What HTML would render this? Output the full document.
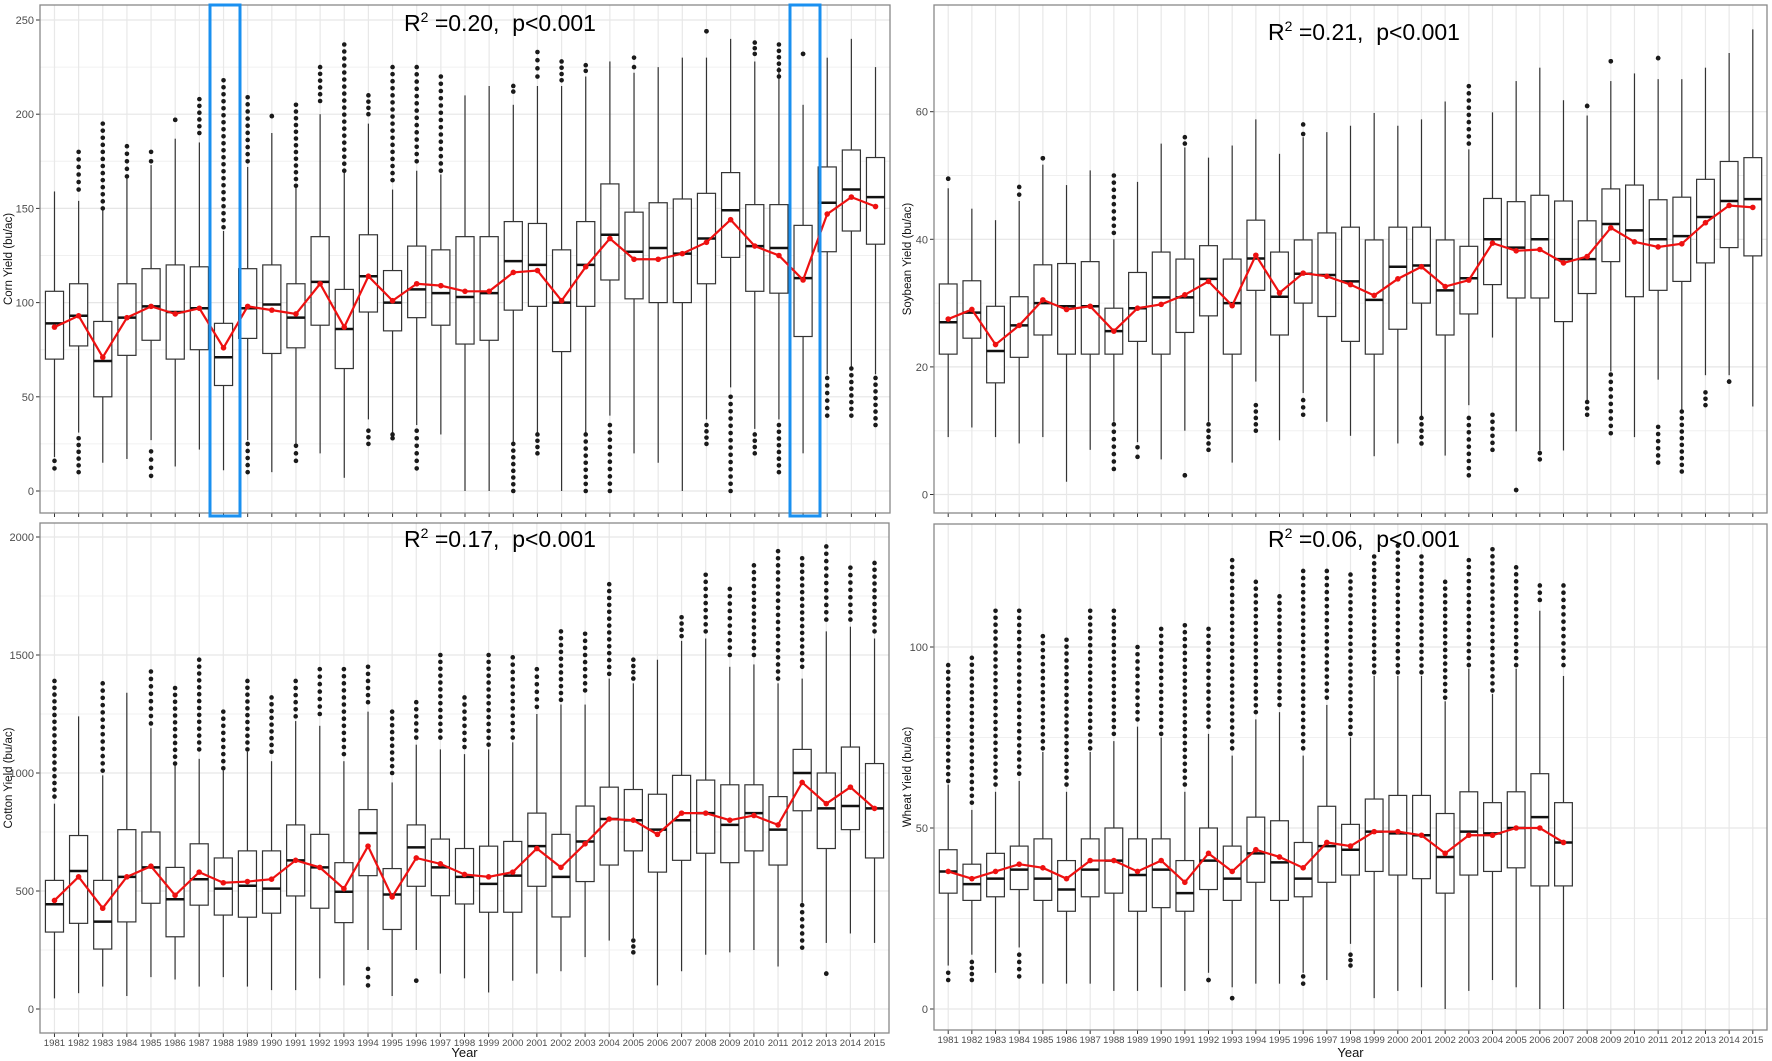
<!DOCTYPE html>
<html><head><meta charset="utf-8">
<style>
html,body{margin:0;padding:0;background:#fff;}
svg{display:block;font-family:"Liberation Sans",Arial,sans-serif;}
</style></head>
<body>
<svg id="chart" width="1772" height="1061" viewBox="0 0 1772 1061" xmlns="http://www.w3.org/2000/svg">
<rect width="1772" height="1061" fill="#fff"/>
</svg>
<script>
const years = [1981,1982,1983,1984,1985,1986,1987,1988,1989,1990,1991,1992,1993,1994,1995,1996,1997,1998,1999,2000,2001,2002,2003,2004,2005,2006,2007,2008,2009,2010,2011,2012,2013,2014,2015];

// Corn
const cornQ1  = [70,77,50,72,80,70,75,56,81,73,76,88,65,95,85,92,88,78,80,96,98,74,98,112,102,100,100,110,124,106,105,82,127,138,131];
const cornMed = [89,93,69,92,98,95,97,71,97,99,92,111,86,114,100,107,105,103,105,122,120,100,120,136,127,129,126,134,149,130,129,113,153,160,156];
const cornQ3  = [106,110,90,110,118,120,119,89,118,120,110,135,107,136,117,130,128,135,135,143,142,128,143,163,148,153,155,158,169,152,152,141,172,181,177];
const cornLo  = [18,31,15,17,27,13,22,11,27,10,25,20,7,38,31,35,30,0,0,26,31,0,31,40,20,15,0,38,55,33,38,20,62,66,62];
const cornHi  = [159,154,150,167,173,187,185,138,172,190,162,200,170,195,160,170,168,210,215,205,215,215,220,228,222,225,230,230,240,228,225,205,230,240,225];
const cornMean= [87,93,71,92,98,94,97,76,98,96,94,110,87,114,101,110,109,106,106,116,117,101,119,134,123,123,126,132,144,130,125,112,147,156,151];
const cornOutHiMin=[0,160,150,167,175,197,190,140,175,199,162,207,170,200,165,175,170,0,0,212,220,218,223,0,225,0,0,244,0,232,220,232,0,0,0];
const cornOutHiMax=[0,180,195,183,180,197,208,218,209,199,205,225,237,210,225,225,220,0,0,215,233,228,226,0,230,0,0,244,0,238,237,232,0,0,0];
const cornOutLoMin=[12,10,0,0,8,0,0,0,10,0,16,0,0,25,28,12,0,0,0,0,20,0,0,0,0,0,0,25,0,20,10,0,40,40,35];
const cornOutLoMax=[16,28,0,0,21,0,0,0,25,0,24,0,0,32,30,32,0,0,0,25,30,0,30,35,0,0,0,35,50,30,35,0,60,65,60];

// Soybean
const soyQ1  = [22,24.5,17.5,21.5,25,22,22,22,24,22,25.4,28,22,32,25,30,27.9,24,22,25.9,30,25,28.3,32.9,30.8,30.8,27.1,31.5,36.5,31,32,33.4,36.3,38.7,37.4];
const soyMed = [27,28.5,22.5,26.5,30,29.5,29.5,25.6,29.2,30.9,30.9,33.8,30,37,31,34.6,34.4,33.4,30.5,35.7,35.9,32,33.9,40,38.7,40,36.9,36.9,42.4,41.4,40,40.5,43.5,46,46.3];
const soyQ3  = [33,33.5,29.5,31,36,36.2,36.5,29.2,34.8,38,36.9,39,36.9,43,38,39.9,41,41.9,39.9,41.9,41.9,39.9,38.9,46.4,45.9,46.9,46,42.9,47.9,48.5,46.2,46.6,49.4,52.2,52.8];
const soyLo  = [9,10.5,9,8,9,2,7,11.4,8.2,5.5,10,11.4,5,17.7,8.5,15.9,11.4,9.2,6,8,11.9,6.1,14,24.6,9.9,6.9,6.9,14.8,19.3,9,18,13.2,18.7,18.7,13.8];
const soyHi  = [48,44.8,43,46,51.7,48.5,50.8,40,49,55,54.4,52.8,54.7,58.8,53.4,56,56.8,57.8,59.8,57.8,58.8,61.6,54.1,59.9,64.8,66.9,61.8,59.4,64.8,66,65.1,65.1,66.9,69.2,72.9];
const soyMean= [27.5,29,23.5,26.5,30.5,29,29.5,25.6,29.2,29.8,31.3,33.4,29.6,37.5,31.6,34.7,34.2,32.9,31.2,33.8,35.7,32.6,33.6,39.4,38.2,38.4,36.3,37.3,41.8,39.6,38.8,39.3,42.6,45.3,45];
const soyOutHiMin=[49.5,0,0,47,52.7,0,0,41,0,0,55,0,0,0,0,56.5,0,0,0,0,0,0,55,0,0,0,0,60.9,67.9,0,68.4,0,0,0,0];
const soyOutHiMax=[49.5,0,0,48.2,52.7,0,0,50,0,0,56,0,0,0,0,58,0,0,0,0,0,0,64,0,0,0,0,60.9,67.9,0,68.4,0,0,0,0];
const soyOutLoMin=[0,0,0,0,0,0,0,4,5.9,0,3,7,0,10,0,12.5,0,0,0,0,8,0,3,7,0.7,5.5,0,12.5,9.6,0,5,3.6,14,17.7,0];
const soyOutLoMax=[0,0,0,0,0,0,0,11,7.4,0,3,11,0,14,0,14.8,0,0,0,0,12,0,12,12.5,0.7,6.5,0,14.5,18.8,0,10.6,13,16,17.7,0];

// Cotton
const cotQ1  = [326,363,254,369,448,306,440,398,389,406,479,427,366,565,337,520,480,445,410,410,520,390,540,610,670,580,630,660,620,670,610,840,680,760,640];
const cotMed = [444,585,370,560,600,465,550,510,522,510,630,600,497,745,485,685,600,560,530,565,690,560,710,805,800,760,800,830,780,830,760,1000,850,860,850];
const cotQ3  = [545,735,545,760,750,600,700,640,670,670,780,740,620,845,595,780,720,680,690,710,830,740,860,940,930,910,990,970,950,950,900,1100,1000,1110,1040];
const cotLo  = [45,67,95,55,135,125,95,135,95,80,80,130,100,250,55,250,150,130,70,120,150,160,220,290,300,100,160,230,240,250,180,450,280,320,280];
const cotHi  = [870,1240,990,1340,1190,1040,1060,1010,1090,1050,1220,1200,1050,1260,960,1120,1100,1080,1100,1130,1250,1290,1290,1400,1380,1480,1560,1570,1450,1460,1380,1400,1600,1620,1570];
const cotMean= [460,560,427,560,605,482,580,535,540,550,630,600,510,690,475,640,615,570,560,580,680,600,700,805,800,740,830,830,800,820,780,960,870,940,850];
const cotOutHiMin=[900,0,1010,0,1210,1040,1100,1020,1100,1090,1240,1250,1080,1300,1000,1150,1150,1110,1120,1150,1280,1310,1350,1420,1400,0,1580,1600,1500,1500,1400,1450,1650,1650,1600];
const cotOutHiMax=[1390,0,1380,0,1430,1360,1480,1260,1390,1320,1390,1440,1440,1450,1260,1300,1500,1320,1500,1490,1440,1600,1590,1800,1480,0,1660,1840,1780,1880,1940,1910,1960,1870,1890];
const cotOutLoMin=[0,0,0,0,0,0,0,0,0,0,0,0,0,100,0,120,0,0,0,0,0,0,0,0,240,0,0,0,0,0,0,260,150,0,0];
const cotOutLoMax=[0,0,0,0,0,0,0,0,0,0,0,0,0,170,0,120,0,0,0,0,0,0,0,0,290,0,0,0,0,0,0,440,150,0,0];

// Wheat (1981-2007)
const whQ1  = [32,30,31,33,30,27,31,32,27,28,27,33,30,35,30,31,35,37,38,37,36,32,37,38,39,34,34];
const whMed = [38,34.5,36,38.5,36,33,38.5,41,37,38.5,32,41,36,43,40.5,36,45,44,49,48.5,48,42,49,48.5,50,53,46];
const whQ3  = [44,40,43,45,47,41,47,50,47,47,41,50,45,53,52,46,56,51,58,59,59,54,60,57,60,65,57];
const whLo  = [12,15,10,17,7,7,7,5,5,6,5,10,6,7,7,10,8,18,3,5,6,0,5,8,6,0,0];
const whHi  = [62,55,60,63,71,60,71,74,78,75,60,76,70,80,82,70,84,75,92,92,92,85,94,87,94,110,92];
const whMean= [38,36,38,40,39,36,41,41,38,41,35,43,38,44,42,39,46,45,49,49,48,43,48,48,50,50,46];
const whOutHiMin=[63,57,62,65,72,62,72,76,80,76,62,78,72,82,84,72,86,76,93,93,93,86,95,88,95,113,95];
const whOutHiMax=[95,97,110,110,103,102,110,110,100,105,106,105,124,118,114,121,121,120,125,128,125,118,124,127,122,117,117];
const whOutLoMin=[8,8,0,9,0,0,0,0,0,0,0,8,3,0,0,7,0,12,0,0,0,0,0,0,0,0,0];
const whOutLoMax=[10,13,0,15,0,0,0,0,0,0,0,8,3,0,0,9,0,15,0,0,0,0,0,0,0,0,0];

const NS = "http://www.w3.org/2000/svg";
const svg = document.getElementById("chart");
function mk(tag, attrs, parent){
  const e = document.createElementNS(NS, tag);
  for (const k in attrs) e.setAttribute(k, attrs[k]);
  (parent||svg).appendChild(e);
  return e;
}

function panel(P){
  const g = mk("g", {});
  
  
  const n = years.length;
  const step = (P.x1 - P.x0) / (n - 1 + 1.2);
  const xs = i => P.x0 + (0.6 + i) * step;
  const ys = v => P.zeroY - v * P.ppu;
  for (let t = P.minor; t <= P.tmax; t += P.tstep) {
    mk("line", {x1:P.x0, x2:P.x1, y1:ys(t), y2:ys(t), stroke:"#f0f0f0", "stroke-width":1}, g);
  }
  for (let t = 0; t <= P.tmax; t += P.tstep) {
    mk("line", {x1:P.x0, x2:P.x1, y1:ys(t), y2:ys(t), stroke:"#e6e6e6", "stroke-width":1.2}, g);
  }
  for (let i = 0; i < n; i++) {
    mk("line", {x1:xs(i), x2:xs(i), y1:P.y0, y2:P.y1, stroke:"#e8e8e8", "stroke-width":1.2}, g);
  }
  for (let t = 0; t <= P.tmax; t += P.tstep) {
    mk("line", {x1:P.x0-4, x2:P.x0, y1:ys(t), y2:ys(t), stroke:"#333", "stroke-width":1}, g);
    const tl = mk("text", {x:P.x0-6, y:ys(t)+4, "text-anchor":"end", "font-size":11, fill:"#4d4d4d"}, g);
    
    
    tl.textContent = t;
  }
  for (let i = 0; i < n; i++) {
    mk("line", {x1:xs(i), x2:xs(i), y1:P.y1, y2:P.y1+4, stroke:"#333", "stroke-width":1}, g);
    if (P.xlabels) {
      const xl = mk("text", {x:xs(i), y:P.y1+13, "text-anchor":"middle", "font-size":9.6, fill:"#4d4d4d"}, g);
      
      
      xl.textContent = years[i];
    }
  }
  const bw = step * 0.75;
  const m = P.q1.length;
  for (let i = 0; i < m; i++) {
    const x = xs(i);
    const bg = mk("g", {}, g);
    
    
    mk("line", {x1:x, x2:x, y1:ys(P.q3[i]), y2:ys(P.hi[i]), stroke:"#333", "stroke-width":1.2}, bg);
    mk("line", {x1:x, x2:x, y1:ys(P.q1[i]), y2:ys(P.lo[i]), stroke:"#333", "stroke-width":1.2}, bg);
    mk("rect", {x:x-bw/2, y:ys(P.q3[i]), width:bw, height:ys(P.q1[i])-ys(P.q3[i]), fill:"#fff", stroke:"#333", "stroke-width":1.2}, bg);
    mk("line", {x1:x-bw/2, x2:x+bw/2, y1:ys(P.med[i]), y2:ys(P.med[i]), stroke:"#111", "stroke-width":2.5}, bg);
    const dots = (a, b) => {
      if (!a && !b) return;
      const ya = ys(a), yb = ys(b);
      const cnt = Math.max(1, Math.round(Math.abs(ya - yb) / 7));
      for (let k = 0; k <= cnt; k++) {
        const yy = ya + (yb - ya) * k / cnt;
        const d = mk("circle", {cx:x, cy:yy, r:2.3, fill:"#1a1a1a"}, bg);
        
        
      }
    };
    dots(P.ohMin[i], P.ohMax[i]);
    if (P.olMax[i] || P.olMin[i]) dots(P.olMin[i], P.olMax[i]);
  }
  let dstr = "";
  for (let i = 0; i < m; i++) dstr += (i ? "L" : "M") + xs(i) + "," + ys(P.mean[i]);
  const ml = mk("path", {d:dstr, fill:"none", stroke:"#ee1111", "stroke-width":2.2}, g);
  
  
  for (let i = 0; i < m; i++) {
    const c = mk("circle", {cx:xs(i), cy:ys(P.mean[i]), r:2.8, fill:"#ee1111"}, g);
    
    
  }
  mk("rect", {x:P.x0, y:P.y0, width:P.x1-P.x0, height:P.y1-P.y0, fill:"none", stroke:"#888", "stroke-width":1.3}, g);
  const yt = mk("text", {x:0, y:0, transform:"translate(" + P.titleX + "," + ((P.y0+P.y1)/2) + ") rotate(-90)", "text-anchor":"middle", "font-size":11.5, fill:"#111"}, g);
  
  
  yt.textContent = P.ytitle;
  const an = mk("text", {x:P.annX, y:P.annY, "text-anchor":"middle", "font-size":23, fill:"#000"}, g);
  
  
  an.innerHTML = 'R<tspan font-size="14" dy="-9">2</tspan><tspan dy="9">&#160;=' + P.r2 + ',&#160;&#160;p&lt;0.001</tspan>';
  if (P.xlabels) {
    const xt = mk("text", {x:(P.x0+P.x1)/2, y:1057, "text-anchor":"middle", "font-size":13, fill:"#111"}, g);
    
    
    xt.textContent = "Year";
  }
}

panel({name:"corn-panel", x0:40, x1:890, y0:5, y1:513, zeroY:491, ppu:1.884, tmax:250, tstep:50, minor:25,
  q1:cornQ1, med:cornMed, q3:cornQ3, lo:cornLo, hi:cornHi, mean:cornMean,
  ohMin:cornOutHiMin, ohMax:cornOutHiMax, olMin:cornOutLoMin, olMax:cornOutLoMax,
  xlabels:false, titleX:12, ytitle:"Corn Yield (bu/ac)", annX:500, annY:31, r2:"0.20"});
panel({name:"soybean-panel", x0:934, x1:1767, y0:5, y1:513, zeroY:494.5, ppu:6.38, tmax:60, tstep:20, minor:10,
  q1:soyQ1, med:soyMed, q3:soyQ3, lo:soyLo, hi:soyHi, mean:soyMean,
  ohMin:soyOutHiMin, ohMax:soyOutHiMax, olMin:soyOutLoMin, olMax:soyOutLoMax,
  xlabels:false, titleX:911, ytitle:"Soybean Yield (bu/ac)", annX:1364, annY:40, r2:"0.21"});
panel({name:"cotton-panel", x0:40, x1:889, y0:523, y1:1033, zeroY:1009, ppu:0.236, tmax:2000, tstep:500, minor:250,
  q1:cotQ1, med:cotMed, q3:cotQ3, lo:cotLo, hi:cotHi, mean:cotMean,
  ohMin:cotOutHiMin, ohMax:cotOutHiMax, olMin:cotOutLoMin, olMax:cotOutLoMax,
  xlabels:true, titleX:12, ytitle:"Cotton Yield (bu/ac)", annX:500, annY:547, r2:"0.17"});
panel({name:"wheat-panel", x0:934, x1:1767, y0:524, y1:1030, zeroY:1009, ppu:3.62, tmax:100, tstep:50, minor:25,
  q1:whQ1, med:whMed, q3:whQ3, lo:whLo, hi:whHi, mean:whMean,
  ohMin:whOutHiMin, ohMax:whOutHiMax, olMin:whOutLoMin, olMax:whOutLoMax,
  xlabels:true, titleX:911, ytitle:"Wheat Yield (bu/ac)", annX:1364, annY:547, r2:"0.06"});

const h1 = mk("rect", {x:210, y:5, width:30, height:511, fill:"none", stroke:"#1a90f0", "stroke-width":3});


const h2 = mk("rect", {x:790, y:5, width:30, height:511, fill:"none", stroke:"#1a90f0", "stroke-width":3});


</script>
</body></html>
